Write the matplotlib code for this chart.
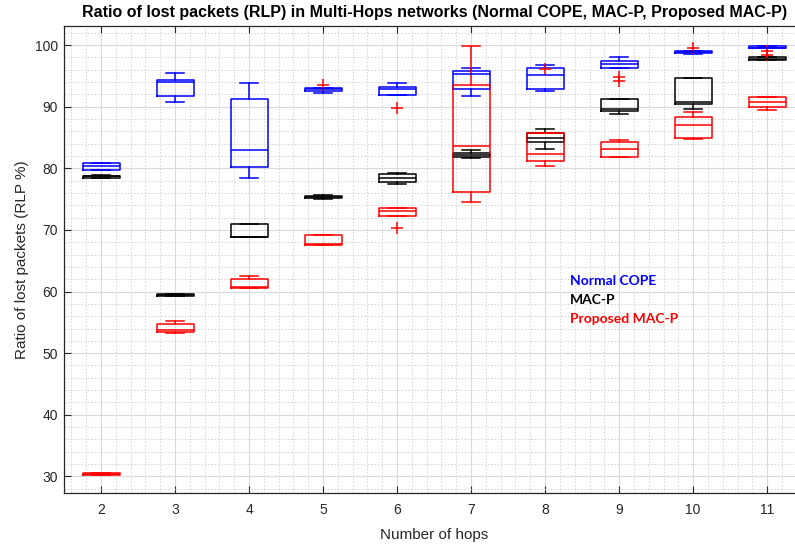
import matplotlib.pyplot as plt
from matplotlib.ticker import MultipleLocator

# Number of hops on the x axis
hops = [2, 3, 4, 5, 6, 7, 8, 9, 10, 11]

# Five-number summaries per hop: (lower whisker, q1, median, q3, upper whisker)
cope_stats = [
    (79.7, 79.7, 80.3, 80.9, 80.9),
    (90.8, 91.7, 94.0, 94.4, 95.5),
    (78.4, 80.2, 82.9, 91.3, 93.9),
    (92.2, 92.5, 92.8, 93.0, 93.1),
    (91.9, 91.9, 92.9, 93.2, 93.8),
    (91.8, 92.8, 95.3, 95.8, 96.2),
    (92.6, 92.9, 95.1, 96.2, 96.8),
    (96.3, 96.3, 97.0, 97.4, 98.0),
    (98.5, 98.7, 98.9, 99.0, 99.1),
    (99.5, 99.5, 99.6, 99.9, 99.9),
]
cope_outliers = [[], [], [], [93.6], [89.8], [], [96.1], [94.9, 94.2], [99.6], []]

macp_stats = [
    (78.4, 78.5, 78.7, 78.8, 78.9),
    (59.2, 59.3, 59.4, 59.6, 59.6),
    (68.8, 68.8, 68.9, 70.9, 70.9),
    (75.0, 75.1, 75.3, 75.5, 75.6),
    (77.4, 77.7, 78.4, 79.1, 79.3),
    (81.7, 81.8, 82.2, 82.5, 82.9),
    (83.2, 84.2, 85.0, 85.7, 86.3),
    (88.8, 89.3, 89.6, 91.3, 91.3),
    (89.7, 90.5, 90.8, 94.6, 94.7),
    (97.5, 97.5, 97.8, 98.0, 98.0),
]
macp_outliers = [[], [], [], [], [], [], [], [], [], [99.0, 98.4]]

proposed_stats = [
    (30.3, 30.3, 30.4, 30.5, 30.5),
    (53.3, 53.4, 53.7, 54.7, 55.2),
    (60.6, 60.6, 60.7, 62.0, 62.6),
    (67.6, 67.6, 67.7, 69.1, 69.1),
    (72.3, 72.3, 73.0, 73.6, 73.6),
    (74.6, 76.1, 83.6, 93.5, 99.8),
    (80.4, 81.2, 82.3, 85.7, 85.7),
    (81.9, 81.9, 83.1, 84.2, 84.6),
    (84.7, 85.0, 87.0, 88.4, 89.1),
    (89.5, 90.0, 90.7, 91.5, 91.5),
]
proposed_outliers = [[], [], [], [], [70.3], [], [], [], [], []]

series = [
    ('Normal COPE', cope_stats, cope_outliers, '#0000ff'),
    ('MAC-P', macp_stats, macp_outliers, '#000000'),
    ('Proposed MAC-P', proposed_stats, proposed_outliers, '#ff0000'),
]

axis_grey = '#262626'

fig = plt.figure(figsize=(7.95, 5.47), dpi=100)
ax = fig.add_axes([0.0805, 0.0987, 0.931, 0.8538])

for name, stats, outliers, color in series:
    bxp_stats = []
    for s, fl in zip(stats, outliers):
        bxp_stats.append({'whislo': s[0], 'q1': s[1], 'med': s[2], 'q3': s[3],
                          'whishi': s[4], 'fliers': fl})
    line = dict(color=color, linewidth=1.1)
    ax.bxp(bxp_stats, positions=hops, widths=0.5, capwidths=0.25,
           boxprops=line, whiskerprops=line, capprops=line, medianprops=line,
           flierprops=dict(marker='+', markeredgecolor='#ff0000', markersize=8,
                           linestyle='none', markeredgewidth=1.1),
           manage_ticks=False, zorder=3)

ax.set_xlim(1.5, 11.5)
ax.set_ylim(27.3, 103.1)
ax.set_xticks(hops)
ax.set_xticklabels([str(h) for h in hops])
ax.set_yticks(range(30, 101, 10))
ax.xaxis.set_minor_locator(MultipleLocator(0.2))
ax.yaxis.set_minor_locator(MultipleLocator(2))

ax.grid(True, which='major', color='#dadada', linewidth=0.8, zorder=0)
ax.grid(True, which='minor', color='#d0d0d0', linestyle=(0, (2, 2)), linewidth=0.6, zorder=0)
ax.set_axisbelow(True)

ax.tick_params(which='major', direction='in', length=5, width=0.8, top=True, right=True,
               colors=axis_grey, labelsize=10)
ax.tick_params(axis='x', which='major', pad=7)
ax.tick_params(axis='y', which='major', pad=4.5)
ax.tick_params(which='minor', length=0)
for lbl in ax.get_xticklabels() + ax.get_yticklabels():
    lbl.set_fontfamily('Liberation Sans')
for sp in ax.spines.values():
    sp.set_color(axis_grey)
    sp.set_linewidth(0.9)

ax.set_xlabel('Number of hops', fontsize=11, color=axis_grey, family='Liberation Sans', labelpad=8)
ax.set_ylabel('Ratio of lost packets (RLP %)', fontsize=11, color=axis_grey,
              family='Liberation Sans', labelpad=4)
fig.text(0.546, 0.977, 'Ratio of lost packets (RLP) in Multi-Hops networks (Normal COPE, MAC-P, Proposed MAC-P)',
         ha='center', va='center', fontsize=11.5, fontweight='bold', family='Liberation Sans')

# Colour-coded series names in place of a legend box
for i, (name, stats, outliers, color) in enumerate(series):
    ax.text(8.34, 61.75 - 3.1 * i, name, color=color, fontsize=10, fontweight='bold',
            family='Lato', va='center', ha='left')

fig.savefig('out.png', dpi=100)
